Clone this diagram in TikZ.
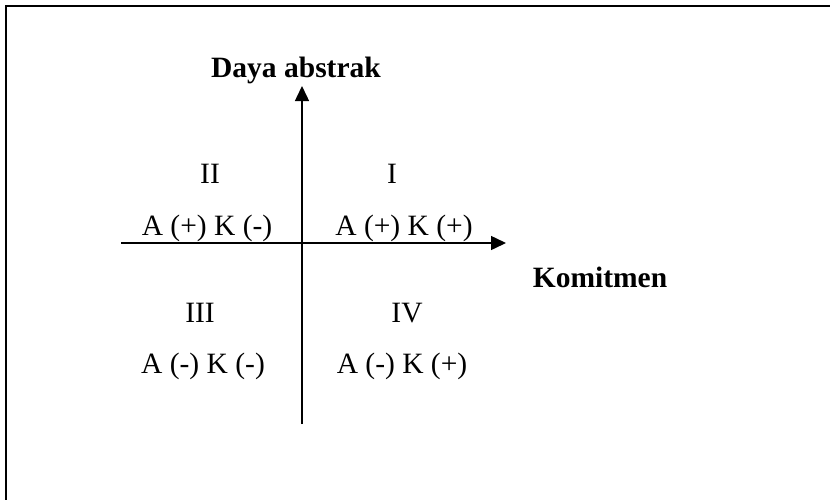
\documentclass[tikz,border=0pt]{standalone}
\usepackage{fontspec}
\setmainfont{Liberation Serif}
\usepackage{tikz}
\usetikzlibrary{arrows.meta,positioning}

\begin{document}
\begin{tikzpicture}[x=1pt,y=-1pt,>={Triangle[length=15pt,width=14pt]},
 axis/.style={line width=1.5pt},
 lbl/.style={inner sep=0pt,anchor=base,font=\fontsize{29.5}{35}\selectfont},
 ttl/.style={lbl,font=\fontsize{29.5}{35}\selectfont\bfseries}]
 \clip (0,0) rectangle (830,499);
 \draw[line width=2pt] (6,6) rectangle (850,520);
 % axes
 \coordinate (xl) at (121,243);
 \coordinate (xr) at (506,243);
 \coordinate (yb) at (302,424);
 \coordinate (yt) at (302,86);
 \draw[->,axis] (xl)--(xr);
 \draw[->,axis] (yb)--(yt);
 \node[ttl] (ylab) at (296,77) {Daya abstrak};
 \node[ttl] (xlab) at (600,287) {Komitmen};
 % quadrants
 \node[lbl] (q2) at (210,183) {II};
 \node[lbl] (q1) at (392,183) {I};
 \node[lbl] (k2) at (207,235) {A (+) K (-)};
 \node[lbl] (k1) at (404,235) {A (+) K (+)};
 \node[lbl] (q3) at (200,322) {III};
 \node[lbl] (q4) at (407,322) {IV};
 \node[lbl] (k3) at (203,373) {A (-) K (-)};
 \node[lbl] (k4) at (402,373) {A (-) K (+)};
\end{tikzpicture}
\end{document}
